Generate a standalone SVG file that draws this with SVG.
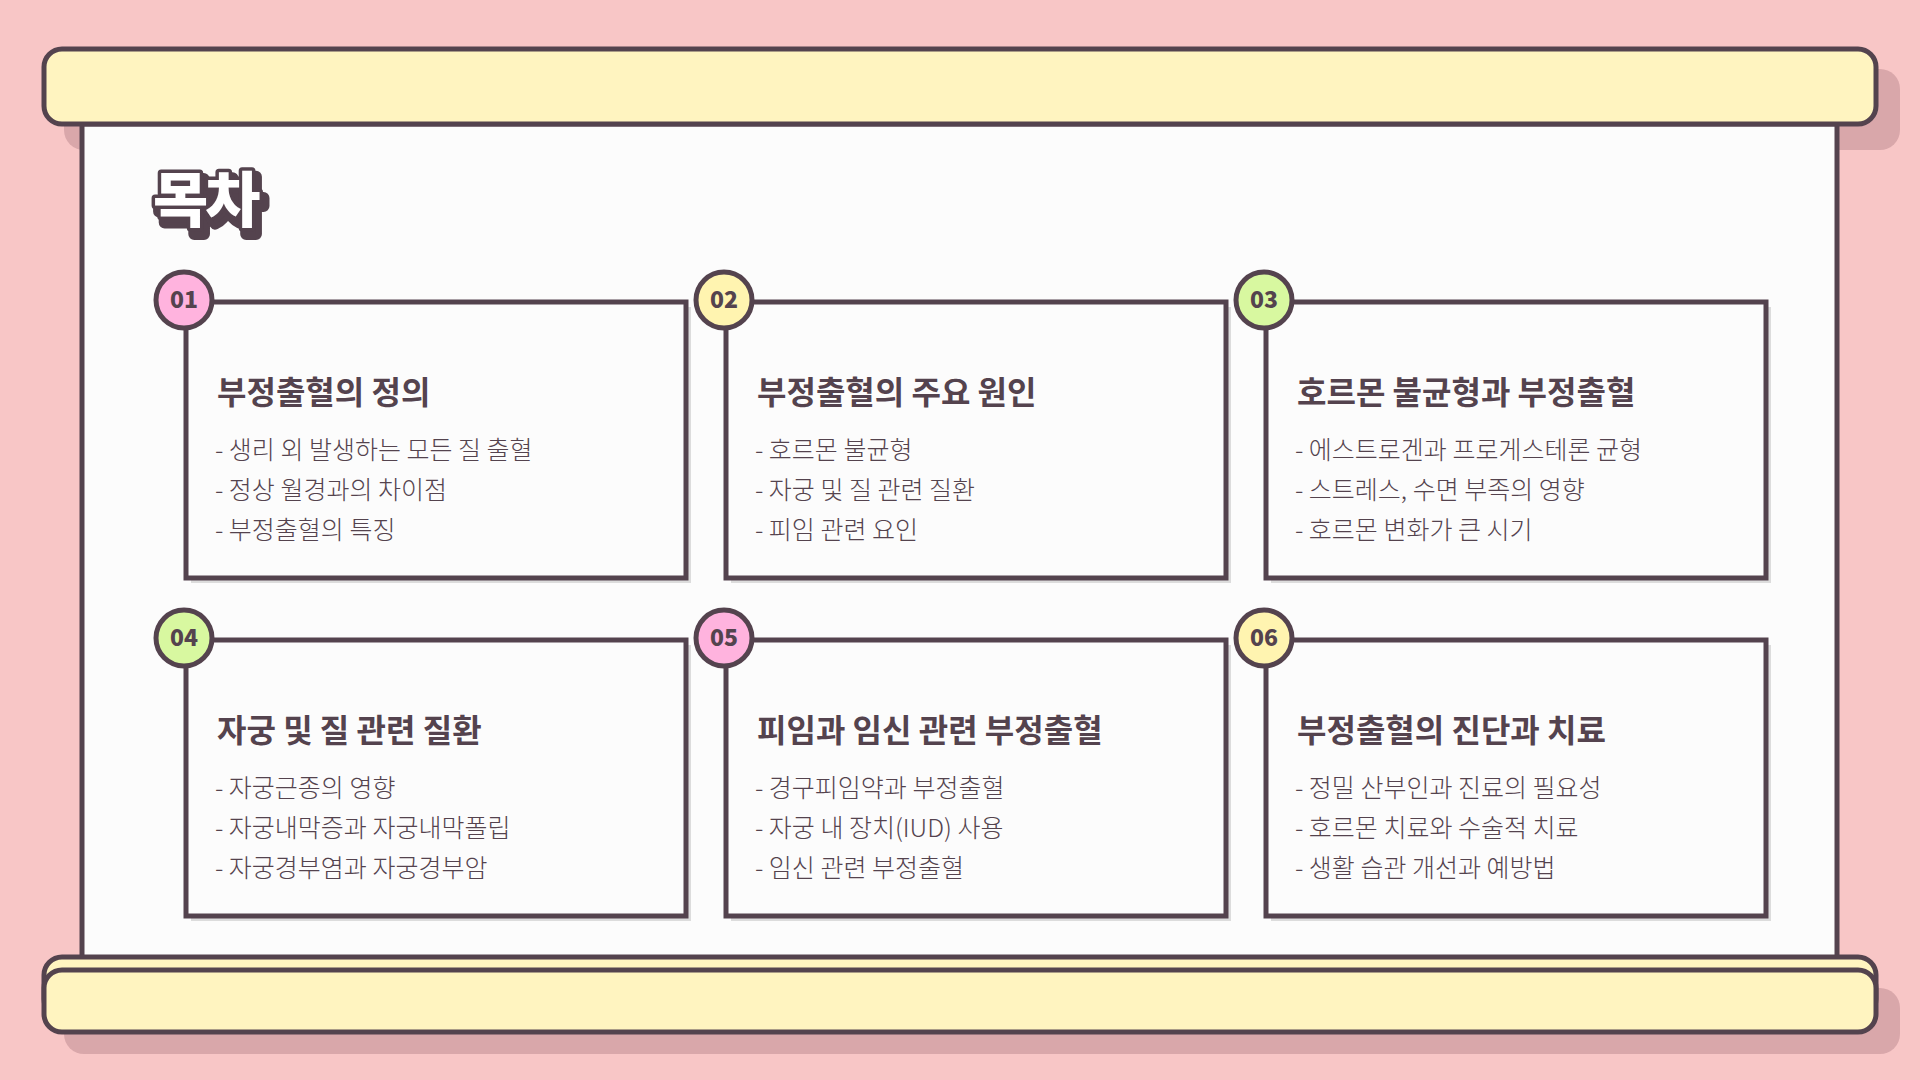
<svg xmlns="http://www.w3.org/2000/svg" xmlns:xlink="http://www.w3.org/1999/xlink" width="1920" height="1080" viewBox="0 0 1920 1080">
<style>
.bar{fill:#FFF4C0;stroke:#54434E;stroke-width:5}
.sh{fill:#D9A7AA}
.card{fill:#FCFCFC;stroke:#54434E;stroke-width:5}
.csh{fill:#DCDCDC}
.num{font-family:"Noto Sans CJK KR","Noto Sans",sans-serif;font-weight:900;font-size:23px;fill:#54434E;text-anchor:middle}
.h{font-family:"Noto Sans CJK KR",sans-serif;font-weight:700;font-size:32px;fill:#54434E}
.t{font-family:"Noto Sans CJK KR",sans-serif;font-weight:300;font-size:25px;fill:#54434E}
.c{stroke:#54434E;stroke-width:5}
</style>
<defs>
<text id="tt" x="153" y="222" font-family="Noto Sans CJK KR,sans-serif" font-weight="900" font-size="60" letter-spacing="-3" stroke-linejoin="round" paint-order="stroke">목차</text>
</defs>
<rect width="1920" height="1080" fill="#F8C6C6"/>
<rect class="sh" x="64" y="69" width="1836" height="81" rx="20"/>
<rect class="sh" x="64" y="988" width="1836" height="66" rx="20"/>
<rect x="82" y="124" width="1755" height="837" fill="#FCFCFC" stroke="#54434E" stroke-width="5"/>
<rect class="bar" x="44" y="49" width="1832" height="75" rx="18"/>
<rect class="bar" x="44" y="957" width="1832" height="60" rx="18"/>
<rect class="bar" x="44" y="970" width="1832" height="62" rx="18"/>
<g id="title">
<use xlink:href="#tt" href="#tt" x="4" y="6" fill="#54434E" stroke="#54434E" stroke-width="12"/>
<use xlink:href="#tt" href="#tt" fill="#FFFFFF" stroke="#54434E" stroke-width="7"/>
</g>
<g id="card1"><rect class="csh" x="191" y="307" width="500" height="276"/><rect class="card" x="186" y="302" width="500" height="276"/><circle class="c" cx="184" cy="300" r="28" fill="#FFB3DE"/><text class="num" x="184" y="308">01</text>
<text class="h" x="217" y="404">부정출혈의 정의</text><text class="t" x="215" y="459">- 생리 외 발생하는 모든 질 출혈</text><text class="t" x="215" y="499">- 정상 월경과의 차이점</text><text class="t" x="215" y="539">- 부정출혈의 특징</text></g>
<g id="card2"><rect class="csh" x="731" y="307" width="500" height="276"/><rect class="card" x="726" y="302" width="500" height="276"/><circle class="c" cx="724" cy="300" r="28" fill="#FFF4B0"/><text class="num" x="724" y="308">02</text>
<text class="h" x="757" y="404">부정출혈의 주요 원인</text><text class="t" x="755" y="459">- 호르몬 불균형</text><text class="t" x="755" y="499">- 자궁 및 질 관련 질환</text><text class="t" x="755" y="539">- 피임 관련 요인</text></g>
<g id="card3"><rect class="csh" x="1271" y="307" width="500" height="276"/><rect class="card" x="1266" y="302" width="500" height="276"/><circle class="c" cx="1264" cy="300" r="28" fill="#D8F8A0"/><text class="num" x="1264" y="308">03</text>
<text class="h" x="1297" y="404">호르몬 불균형과 부정출혈</text><text class="t" x="1295" y="459">- 에스트로겐과 프로게스테론 균형</text><text class="t" x="1295" y="499">- 스트레스, 수면 부족의 영향</text><text class="t" x="1295" y="539">- 호르몬 변화가 큰 시기</text></g>
<g id="card4"><rect class="csh" x="191" y="645" width="500" height="276"/><rect class="card" x="186" y="640" width="500" height="276"/><circle class="c" cx="184" cy="638" r="28" fill="#D8F8A0"/><text class="num" x="184" y="646">04</text>
<text class="h" x="217" y="742">자궁 및 질 관련 질환</text><text class="t" x="215" y="797">- 자궁근종의 영향</text><text class="t" x="215" y="837">- 자궁내막증과 자궁내막폴립</text><text class="t" x="215" y="877">- 자궁경부염과 자궁경부암</text></g>
<g id="card5"><rect class="csh" x="731" y="645" width="500" height="276"/><rect class="card" x="726" y="640" width="500" height="276"/><circle class="c" cx="724" cy="638" r="28" fill="#FFB3DE"/><text class="num" x="724" y="646">05</text>
<text class="h" x="757" y="742">피임과 임신 관련 부정출혈</text><text class="t" x="755" y="797">- 경구피임약과 부정출혈</text><text class="t" x="755" y="837">- 자궁 내 장치(IUD) 사용</text><text class="t" x="755" y="877">- 임신 관련 부정출혈</text></g>
<g id="card6"><rect class="csh" x="1271" y="645" width="500" height="276"/><rect class="card" x="1266" y="640" width="500" height="276"/><circle class="c" cx="1264" cy="638" r="28" fill="#FFF4B0"/><text class="num" x="1264" y="646">06</text>
<text class="h" x="1297" y="742">부정출혈의 진단과 치료</text><text class="t" x="1295" y="797">- 정밀 산부인과 진료의 필요성</text><text class="t" x="1295" y="837">- 호르몬 치료와 수술적 치료</text><text class="t" x="1295" y="877">- 생활 습관 개선과 예방법</text></g>
<g id="connectors"></g>
</svg>
